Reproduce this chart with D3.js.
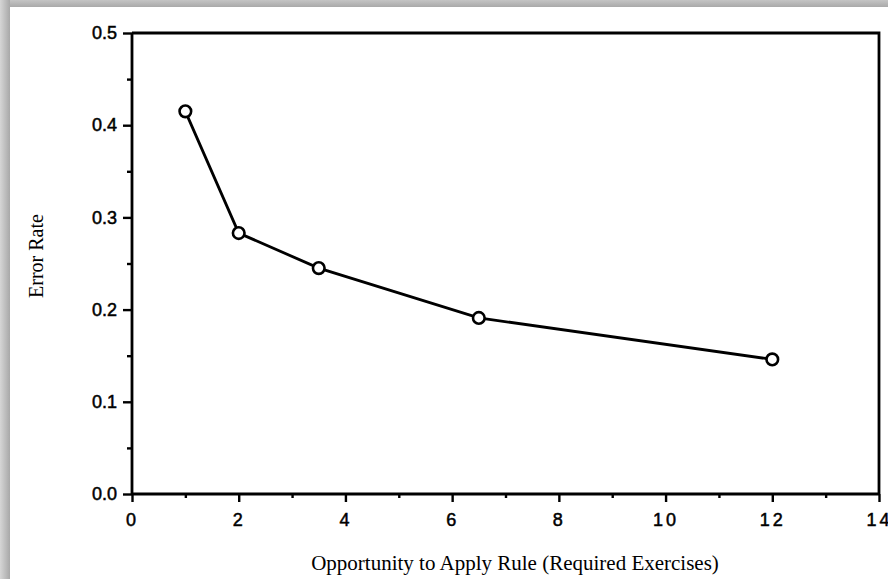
<!DOCTYPE html>
<html>
<head>
<meta charset="utf-8">
<script src="https://cdn.jsdelivr.net/npm/d3@7"></script>
<style>
    body { margin: 0; background: #fff; }
    svg { display: block; }
</style>
</head>
<body>
<svg id="plot"></svg>
<script>
// Data
const opportunity = [1, 2, 3.5, 6.5, 12];
const errorRate = [0.415, 0.283, 0.245, 0.191, 0.146];
const xTicks = [0, 2, 4, 6, 8, 10, 12, 14];
const xMinorTicks = [1, 3, 5, 7, 9, 11, 13];
const yTicks = [0, 0.1, 0.2, 0.3, 0.4, 0.5];
const yMinorTicks = [0.05, 0.15, 0.25, 0.35, 0.45];

const width = 888;
const height = 579;
const svg = d3.select("#plot").attr("width", width).attr("height", height);

// Frame shadow along the top and left edges
const defs = svg.append("defs");
const gTop = defs.append("linearGradient").attr("id", "gTop")
    .attr("x1", 0).attr("y1", 0).attr("x2", 0).attr("y2", 1);
gTop.append("stop").attr("offset", "0%").attr("stop-color", "#c4c4c4");
gTop.append("stop").attr("offset", "100%").attr("stop-color", "#a9a9a9");
const gLeft = defs.append("linearGradient").attr("id", "gLeft")
    .attr("x1", 0).attr("y1", 0).attr("x2", 1).attr("y2", 0);
gLeft.append("stop").attr("offset", "0%").attr("stop-color", "#d6d6d6");
gLeft.append("stop").attr("offset", "100%").attr("stop-color", "#a8a8a8");

svg.append("rect").attr("x", 0).attr("y", 0).attr("width", width).attr("height", 7)
    .attr("fill", "url(#gTop)");
svg.append("rect").attr("x", 0).attr("y", 0).attr("width", 10).attr("height", height)
    .attr("fill", "url(#gLeft)");

// Scales
const x = d3.scaleLinear().domain([0, 14]).range([132, 879]);
const y = d3.scaleLinear().domain([0, 0.5]).range([494, 33]);

const axisFont = "'Liberation Sans', Arial, sans-serif";
const labelFont = "'Liberation Serif', 'Times New Roman', serif";

// Y axis
const yAxis = svg.append("g").attr("transform", `translate(${x(0)},0)`)
    .call(d3.axisLeft(y).tickValues(yTicks).tickSize(9).tickPadding(6)
        .tickFormat(d3.format(".1f")));
svg.append("g").attr("transform", `translate(${x(0)},0)`)
    .call(d3.axisLeft(y).tickValues(yMinorTicks).tickSize(5).tickFormat(""))
    .call((g) => g.select(".domain").remove());

// X axis
const xAxis = svg.append("g").attr("transform", `translate(0,${y(0)})`)
    .call(d3.axisBottom(x).tickValues(xTicks).tickSize(8).tickPadding(11)
        .tickFormat(d3.format("d")));
svg.append("g").attr("transform", `translate(0,${y(0)})`)
    .call(d3.axisBottom(x).tickValues(xMinorTicks).tickSize(4).tickFormat(""))
    .call((g) => g.select(".domain").remove());

svg.selectAll(".tick line").attr("stroke", "#000").attr("stroke-width", 2.4);
svg.selectAll(".domain").attr("stroke", "#000").attr("stroke-width", 2.8)
    .attr("d", function () {
        return d3.select(this.parentNode).attr("transform").includes(",0)")
            ? `M0,${y(0.5)}V${y(0)}` : `M${x(0)},0H${x(14)}`;
    });

yAxis.selectAll("text").attr("font-family", axisFont).attr("font-size", 18)
    .attr("fill", "#000").attr("stroke", "#000").attr("stroke-width", 0.5);
xAxis.selectAll("text").attr("font-family", axisFont).attr("font-size", 18)
    .attr("fill", "#000").attr("stroke", "#000").attr("stroke-width", 0.5)
    .attr("letter-spacing", "3px");

// Top and right edges of the box
svg.append("path")
    .attr("d", `M${x(0)},${y(0.5)}H${x(14)}V${y(0)}`)
    .attr("fill", "none").attr("stroke", "#000").attr("stroke-width", 2.8);

// Axis titles
svg.append("text")
    .attr("transform", `translate(43,256) rotate(-90)`)
    .attr("text-anchor", "middle")
    .attr("font-family", labelFont).attr("font-size", 20)
    .text("Error Rate");

svg.append("text")
    .attr("x", 515).attr("y", 570)
    .attr("text-anchor", "middle")
    .attr("font-family", labelFont).attr("font-size", 21)
    .text("Opportunity to Apply Rule (Required Exercises)");

// Line and points
const points = opportunity.map((d, i) => ({ x: d, y: errorRate[i] }));

svg.append("path")
    .datum(points)
    .attr("d", d3.line().x((d) => x(d.x)).y((d) => y(d.y)))
    .attr("fill", "none").attr("stroke", "#000").attr("stroke-width", 2.8);

svg.selectAll("circle.pt")
    .data(points)
    .enter()
    .append("circle")
    .attr("class", "pt")
    .attr("cx", (d) => x(d.x))
    .attr("cy", (d) => y(d.y))
    .attr("r", 5.8)
    .attr("fill", "#fff")
    .attr("stroke", "#000")
    .attr("stroke-width", 2.6);
</script>
</body>
</html>
